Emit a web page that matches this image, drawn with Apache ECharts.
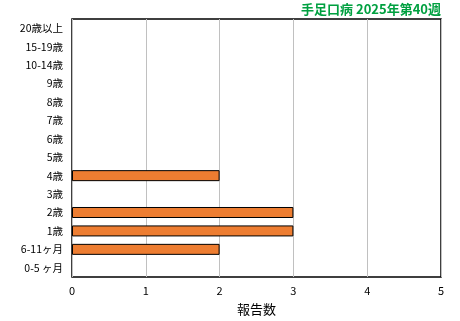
<!DOCTYPE html>
<html><head><meta charset="utf-8">
<script src="https://cdn.jsdelivr.net/npm/echarts@6/dist/echarts.min.js"></script>
<style>html,body{margin:0;padding:0;background:#fff}#c{width:460px;height:321px}</style>
</head><body><div id="c"></div>
<script>
const categories = ['0-5 ヶ月','6-11ヶ月','1歳','2歳','3歳','4歳','5歳','6歳','7歳','8歳','9歳','10-14歳','15-19歳','20歳以上'];
const values = [0,2,3,3,0,2,0,0,0,0,0,0,0,0];
const xTicks = [0,1,2,3,4,5];
const titleText = '手足口病 2025年第40週';
const xName = '報告数';
const font = '"Noto Sans CJK JP", sans-serif';
const chart = echarts.init(document.getElementById('c'));
chart.setOption({
  animation:false,
  title:{text:titleText,right:19,top:3,padding:0,textStyle:{color:'#00A040',fontSize:13,fontWeight:'bold',fontFamily:font}},
  grid:{left:72,right:19,top:19,bottom:44,show:true,borderColor:'#000',borderWidth:1.5},
  xAxis:{type:'value',min:xTicks[0],max:xTicks[xTicks.length-1],interval:1,
    name:xName,nameLocation:'middle',nameGap:26,nameTextStyle:{color:'#000',fontSize:13,fontFamily:font},
    axisLine:{show:false},axisTick:{show:false},
    axisLabel:{color:'#000',fontSize:11,fontFamily:font,margin:8},
    splitLine:{lineStyle:{color:'#c0c0c0',width:1}}},
  yAxis:{type:'category',data:categories,axisLine:{show:false},axisTick:{show:false},
    axisLabel:{color:'#000',fontSize:10.5,fontFamily:font,margin:9}},
  series:[{type:'bar',data:values.map(v => v === 0 ? '-' : v),barWidth:11,itemStyle:{color:'#ED7D31',borderColor:'#000',borderWidth:1}}]
});
</script></body></html>
